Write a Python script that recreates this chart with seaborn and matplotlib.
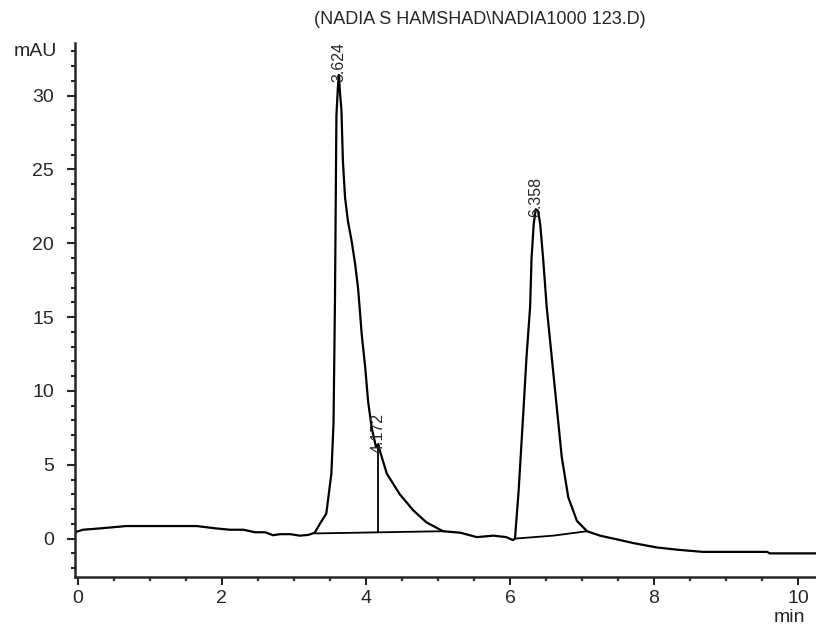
import numpy as np
import pandas as pd
import seaborn as sns
import matplotlib.pyplot as plt
from matplotlib.ticker import MultipleLocator

# retention time (min) and detector signal (mAU)
rt = [-0.04, 0.07, 0.33, 0.67, 1.0, 1.3, 1.65, 1.9, 2.11, 2.3, 2.46, 2.6, 2.71, 2.81, 2.95,
      3.08, 3.2, 3.29, 3.36, 3.45, 3.52, 3.55, 3.57, 3.59, 3.61, 3.624, 3.64, 3.66, 3.68,
      3.71, 3.75, 3.80, 3.85, 3.89, 3.92, 3.94, 3.99, 4.03, 4.08, 4.14, 4.172, 4.19, 4.29,
      4.47, 4.66, 4.84, 5.07, 5.31, 5.54, 5.77, 5.95, 6.04, 6.07, 6.12, 6.19, 6.23, 6.28,
      6.30, 6.33, 6.358, 6.39, 6.42, 6.46, 6.51, 6.58, 6.65, 6.72, 6.81, 6.93, 7.07, 7.25,
      7.53, 7.71, 8.04, 8.32, 8.68, 9.1, 9.57, 9.61, 10.25]
signal = [0.43, 0.6, 0.7, 0.85, 0.85, 0.85, 0.85, 0.7, 0.6, 0.6, 0.43, 0.43, 0.23, 0.3, 0.3,
          0.2, 0.25, 0.4, 1.0, 1.7, 4.4, 7.8, 16.1, 28.6, 30.5, 31.4, 30.2, 29.0, 25.6,
          23.1, 21.5, 20.2, 18.6, 17.0, 15.2, 13.9, 11.6, 9.3, 7.5, 6.2, 6.4, 6.0, 4.4,
          3.0, 1.9, 1.1, 0.5, 0.4, 0.1, 0.2, 0.1, -0.1, 0.0, 3.2, 8.9, 12.3, 15.7,
          19.0, 21.3, 22.3, 22.2, 21.3, 19.0, 15.7, 12.3, 8.9, 5.5, 2.8, 1.2, 0.5, 0.2,
          -0.1, -0.3, -0.6, -0.75, -0.9, -0.9, -0.9, -1.0, -1.0]

# integration baselines and drop line
base1_x = [3.29, 5.07]
base1_y = [0.35, 0.5]
base2_x = [6.07, 6.6, 7.07]
base2_y = [0.0, 0.2, 0.5]
drop_x = [4.172, 4.172]
drop_y = [0.45, 6.3]

peak_rt = [3.624, 4.172, 6.358]
peak_label = ["3.624", "4.172", "6.358"]
peak_top = [31.4, 6.3, 22.3]

title = "(NADIA S HAMSHAD\\NADIA1000 123.D)"

sns.set_style("ticks")
plt.rcParams["font.family"] = ["Liberation Sans", "DejaVu Sans"]

fig = plt.figure(figsize=(8.16, 6.28), dpi=100)
ax = fig.add_axes([75 / 816, 51 / 628, 741 / 816, 534 / 628])

df = pd.DataFrame({"rt": rt, "signal": signal})
sns.lineplot(data=df, x="rt", y="signal", estimator=None, sort=False,
             color="black", linewidth=1.6, ax=ax)
ax.plot(base1_x, base1_y, color="black", linewidth=1.3)
ax.plot(base2_x, base2_y, color="black", linewidth=1.3)
ax.plot(drop_x, drop_y, color="black", linewidth=1.3)

for x, lab, top in zip(peak_rt, peak_label, peak_top):
    ax.text(x, top - 0.5, lab, rotation=90, ha="center", va="bottom", fontsize=11.5)

ax.set_xlim(-0.04, 10.25)
ax.set_ylim(-2.6, 33.56)
ax.xaxis.set_major_locator(MultipleLocator(2))
ax.xaxis.set_minor_locator(MultipleLocator(0.5))
ax.yaxis.set_major_locator(MultipleLocator(5))
ax.yaxis.set_minor_locator(MultipleLocator(1))
ax.tick_params(which="major", length=6, width=1.5, labelsize=14, direction="out")
ax.tick_params(axis="y", which="major", pad=9)
ax.tick_params(which="minor", length=3, width=1.5, direction="out")
ax.set_xlabel("")
ax.set_ylabel("")
sns.despine(ax=ax)
for s in ["left", "bottom"]:
    ax.spines[s].set_linewidth(1.8)

fig.text(35 / 816, 1 - 52 / 628, "mAU", ha="center", va="center", fontsize=14)
fig.text(789 / 816, 1 - 618 / 628, "min", ha="center", va="center", fontsize=14)
fig.text(480 / 816, 1 - 20 / 628, title, ha="center", va="center", fontsize=13)

fig.savefig("out.png", dpi=100)
